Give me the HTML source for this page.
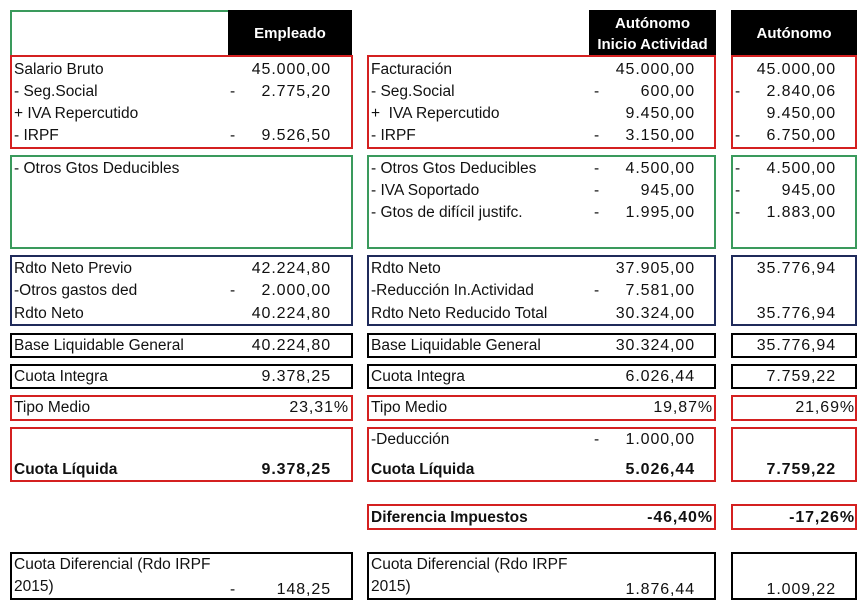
<!DOCTYPE html>
<html><head><meta charset="utf-8"><style>
body{margin:0;width:866px;height:607px;background:#fff;position:relative;overflow:hidden;font-family:"Liberation Sans",sans-serif;font-size:15.5px;color:#111}
.b{position:absolute;box-sizing:border-box;border:2px solid #000}
.r{border-color:#d42020}.g{border-color:#3a9a5c}.n{border-color:#1f2a5a}
.t{position:absolute;line-height:18px;white-space:nowrap}
.v{position:absolute;line-height:18px;white-space:nowrap;text-align:right;font-size:16px;letter-spacing:0.9px}
.h{position:absolute;background:#000;color:#fff;font-weight:bold;text-align:center;font-size:15px}
</style></head><body>
<div class="b g" style="left:10px;top:10px;width:220px;height:47px"></div>
<div class="h" style="left:228px;top:10px;width:124px;height:46px;line-height:48px">Empleado</div>
<div class="h" style="left:589px;top:10px;width:127px;height:46px;line-height:21px;padding-top:3px;box-sizing:border-box">Autónomo<br>Inicio Actividad</div>
<div class="h" style="left:731px;top:10px;width:126px;height:46px;line-height:48px">Autónomo</div>

<div class="b r" style="left:10px;top:55px;width:343px;height:94px"></div>
<div class="b r" style="left:367px;top:55px;width:349px;height:94px"></div>
<div class="b r" style="left:731px;top:55px;width:126px;height:94px"></div>
<div class="b g" style="left:10px;top:155px;width:343px;height:94px"></div>
<div class="b g" style="left:367px;top:155px;width:349px;height:94px"></div>
<div class="b g" style="left:731px;top:155px;width:126px;height:94px"></div>
<div class="b n" style="left:10px;top:255px;width:343px;height:71px"></div>
<div class="b n" style="left:367px;top:255px;width:349px;height:71px"></div>
<div class="b n" style="left:731px;top:255px;width:126px;height:71px"></div>
<div class="b" style="left:10px;top:333px;width:343px;height:25px"></div>
<div class="b" style="left:367px;top:333px;width:349px;height:25px"></div>
<div class="b" style="left:731px;top:333px;width:126px;height:25px"></div>
<div class="b" style="left:10px;top:364px;width:343px;height:25px"></div>
<div class="b" style="left:367px;top:364px;width:349px;height:25px"></div>
<div class="b" style="left:731px;top:364px;width:126px;height:25px"></div>
<div class="b r" style="left:10px;top:395px;width:343px;height:26px"></div>
<div class="b r" style="left:367px;top:395px;width:349px;height:26px"></div>
<div class="b r" style="left:731px;top:395px;width:126px;height:26px"></div>
<div class="b r" style="left:10px;top:427px;width:343px;height:55px"></div>
<div class="b r" style="left:367px;top:427px;width:349px;height:55px"></div>
<div class="b r" style="left:731px;top:427px;width:126px;height:55px"></div>
<div class="b r" style="left:367px;top:504px;width:349px;height:26px"></div>
<div class="b r" style="left:731px;top:504px;width:126px;height:26px"></div>
<div class="b" style="left:10px;top:552px;width:343px;height:48px"></div>
<div class="b" style="left:367px;top:552px;width:349px;height:48px"></div>
<div class="b" style="left:731px;top:552px;width:126px;height:48px"></div>

<!-- left labels -->
<div class="t" style="left:14px;top:61px">Salario Bruto</div>
<div class="t" style="left:14px;top:83px">- Seg.Social</div>
<div class="t" style="left:14px;top:105px">+ IVA Repercutido</div>
<div class="t" style="left:14px;top:127px">- IRPF</div>
<div class="t" style="left:14px;top:160px">- Otros Gtos Deducibles</div>
<div class="t" style="left:14px;top:260px">Rdto Neto Previo</div>
<div class="t" style="left:14px;top:282px">-Otros gastos ded</div>
<div class="t" style="left:14px;top:305px">Rdto Neto</div>
<div class="t" style="left:14px;top:337px">Base Liquidable General</div>
<div class="t" style="left:14px;top:368px">Cuota Integra</div>
<div class="t" style="left:14px;top:399px">Tipo Medio</div>
<div class="t" style="left:14px;top:461px;font-weight:bold">Cuota Líquida</div>
<div class="t" style="left:14px;top:556px">Cuota Diferencial (Rdo IRPF</div>
<div class="t" style="left:14px;top:578px">2015)</div>
<div class="t" style="left:230px;top:83px">-</div>
<div class="t" style="left:230px;top:127px">-</div>
<div class="t" style="left:230px;top:282px">-</div>
<div class="t" style="left:230px;top:581px">-</div>
<div class="v" style="right:535px;top:61px">45.000,00</div>
<div class="v" style="right:535px;top:83px">2.775,20</div>
<div class="v" style="right:535px;top:127px">9.526,50</div>
<div class="v" style="right:535px;top:260px">42.224,80</div>
<div class="v" style="right:535px;top:282px">2.000,00</div>
<div class="v" style="right:535px;top:305px">40.224,80</div>
<div class="v" style="right:535px;top:337px">40.224,80</div>
<div class="v" style="right:535px;top:368px">9.378,25</div>
<div class="v" style="right:517px;top:399px">23,31%</div>
<div class="v" style="right:535px;top:461px;font-weight:bold">9.378,25</div>
<div class="v" style="right:535px;top:581px">148,25</div>

<!-- middle -->
<div class="t" style="left:371px;top:61px">Facturación</div>
<div class="t" style="left:371px;top:83px">- Seg.Social</div>
<div class="t" style="left:371px;top:105px">+&nbsp; IVA Repercutido</div>
<div class="t" style="left:371px;top:127px">- IRPF</div>
<div class="t" style="left:371px;top:160px">- Otros Gtos Deducibles</div>
<div class="t" style="left:371px;top:182px">- IVA Soportado</div>
<div class="t" style="left:371px;top:204px">- Gtos de difícil justifc.</div>
<div class="t" style="left:371px;top:260px">Rdto Neto</div>
<div class="t" style="left:371px;top:282px">-Reducción In.Actividad</div>
<div class="t" style="left:371px;top:305px">Rdto Neto Reducido Total</div>
<div class="t" style="left:371px;top:337px">Base Liquidable General</div>
<div class="t" style="left:371px;top:368px">Cuota Integra</div>
<div class="t" style="left:371px;top:399px">Tipo Medio</div>
<div class="t" style="left:371px;top:431px">-Deducción</div>
<div class="t" style="left:371px;top:461px;font-weight:bold">Cuota Líquida</div>
<div class="t" style="left:371px;top:509px;font-weight:bold">Diferencia Impuestos</div>
<div class="t" style="left:371px;top:556px">Cuota Diferencial (Rdo IRPF</div>
<div class="t" style="left:371px;top:578px">2015)</div>
<div class="t" style="left:594px;top:83px">-</div>
<div class="t" style="left:594px;top:127px">-</div>
<div class="t" style="left:594px;top:160px">-</div>
<div class="t" style="left:594px;top:182px">-</div>
<div class="t" style="left:594px;top:204px">-</div>
<div class="t" style="left:594px;top:282px">-</div>
<div class="t" style="left:594px;top:431px">-</div>
<div class="v" style="right:171px;top:61px">45.000,00</div>
<div class="v" style="right:171px;top:83px">600,00</div>
<div class="v" style="right:171px;top:105px">9.450,00</div>
<div class="v" style="right:171px;top:127px">3.150,00</div>
<div class="v" style="right:171px;top:160px">4.500,00</div>
<div class="v" style="right:171px;top:182px">945,00</div>
<div class="v" style="right:171px;top:204px">1.995,00</div>
<div class="v" style="right:171px;top:260px">37.905,00</div>
<div class="v" style="right:171px;top:282px">7.581,00</div>
<div class="v" style="right:171px;top:305px">30.324,00</div>
<div class="v" style="right:171px;top:337px">30.324,00</div>
<div class="v" style="right:171px;top:368px">6.026,44</div>
<div class="v" style="right:153px;top:399px">19,87%</div>
<div class="v" style="right:171px;top:431px">1.000,00</div>
<div class="v" style="right:171px;top:461px;font-weight:bold">5.026,44</div>
<div class="v" style="right:153px;top:509px;font-weight:bold">-46,40%</div>
<div class="v" style="right:171px;top:581px">1.876,44</div>

<!-- right -->
<div class="t" style="left:735px;top:83px">-</div>
<div class="t" style="left:735px;top:127px">-</div>
<div class="t" style="left:735px;top:160px">-</div>
<div class="t" style="left:735px;top:182px">-</div>
<div class="t" style="left:735px;top:204px">-</div>
<div class="v" style="right:30px;top:61px">45.000,00</div>
<div class="v" style="right:30px;top:83px">2.840,06</div>
<div class="v" style="right:30px;top:105px">9.450,00</div>
<div class="v" style="right:30px;top:127px">6.750,00</div>
<div class="v" style="right:30px;top:160px">4.500,00</div>
<div class="v" style="right:30px;top:182px">945,00</div>
<div class="v" style="right:30px;top:204px">1.883,00</div>
<div class="v" style="right:30px;top:260px">35.776,94</div>
<div class="v" style="right:30px;top:305px">35.776,94</div>
<div class="v" style="right:30px;top:337px">35.776,94</div>
<div class="v" style="right:30px;top:368px">7.759,22</div>
<div class="v" style="right:11px;top:399px">21,69%</div>
<div class="v" style="right:30px;top:461px;font-weight:bold">7.759,22</div>
<div class="v" style="right:11px;top:509px;font-weight:bold">-17,26%</div>
<div class="v" style="right:30px;top:581px">1.009,22</div>
</body></html>
